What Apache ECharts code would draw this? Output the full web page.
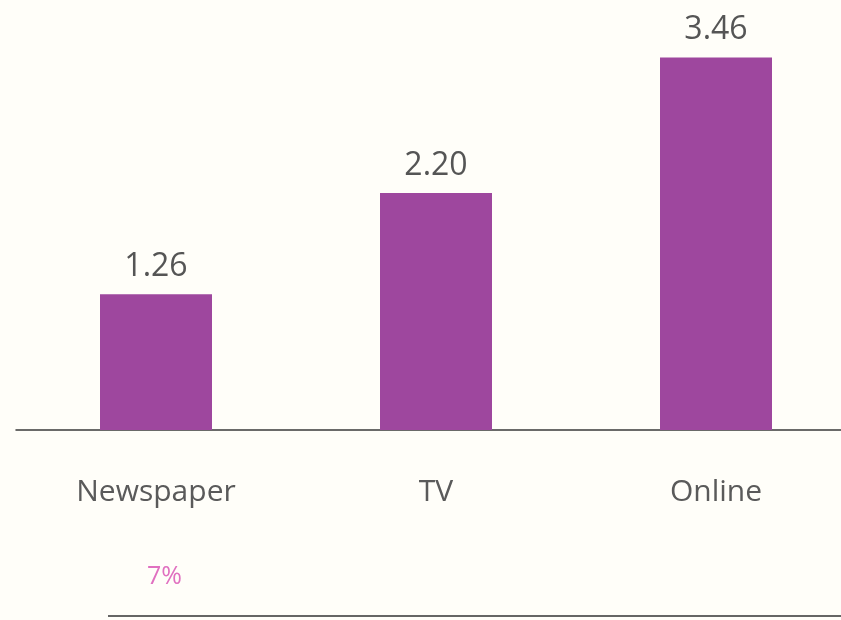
<!DOCTYPE html>
<html>
<head>
<meta charset="utf-8">
<script src="https://cdn.jsdelivr.net/npm/echarts@6/dist/echarts.min.js"></script>
<style>
  html, body { margin: 0; padding: 0; background: #fffef9; }
  #chart { width: 841px; height: 620px; }
</style>
</head>
<body>
<div id="chart"></div>
<script>
// Media channels and their values
const categories = ['Newspaper', 'TV', 'Online'];
const values = [1.26, 2.20, 3.46];
const noteText = '7%';

const chart = echarts.init(document.getElementById('chart'), null, { renderer: 'canvas' });

chart.setOption({
  backgroundColor: '#fffef9',
  animation: false,
  // the grid runs a little past the right edge so the three bands are evenly wide
  grid: { left: 16, width: 840, top: 10, bottom: 190, outerBoundsMode: 'none', containLabel: false },
  xAxis: {
    type: 'category',
    data: categories,
    axisLine: { show: true, lineStyle: { color: '#3a3a3a', width: 1.5 } },
    axisTick: { show: false },
    axisLabel: {
      margin: 47,
      fontFamily: 'Open Sans',
      fontSize: 30,
      color: '#5a5a5a'
    }
  },
  yAxis: {
    type: 'value',
    min: 0,
    max: 3.9,
    show: false,
    splitLine: { show: false }
  },
  series: [{
    type: 'bar',
    data: values,
    barWidth: '40%',
    itemStyle: { color: '#9e479e' },
    label: {
      show: true,
      position: 'top',
      distance: 11,
      formatter: p => p.value.toFixed(2),
      fontFamily: 'Open Sans',
      fontSize: 32,
      color: '#555555'
    }
  }],
  graphic: [
    {
      type: 'text',
      left: 147,
      top: 564,
      style: {
        text: noteText,
        fontFamily: 'Open Sans',
        fontSize: 25,
        fill: '#e070c0'
      }
    },
    {
      type: 'line',
      shape: { x1: 108, y1: 616, x2: 841, y2: 616 },
      style: { stroke: '#333333', lineWidth: 1.5 }
    }
  ]
});
</script>
</body>
</html>
